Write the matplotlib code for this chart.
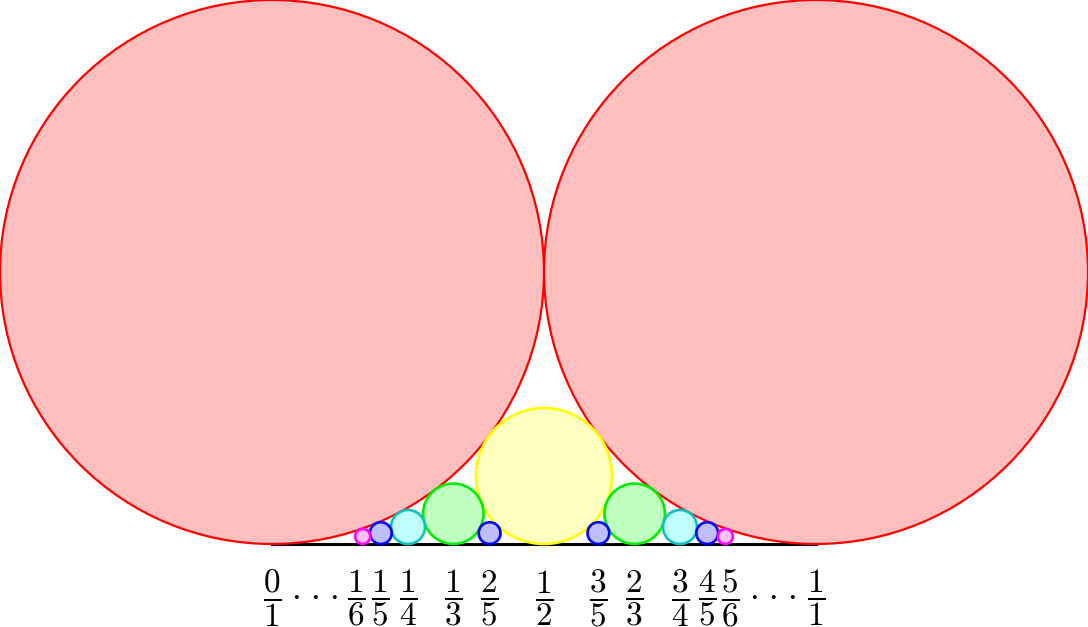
import numpy as np
import matplotlib
matplotlib.use('Agg')
import matplotlib.pyplot as plt
from matplotlib.patches import Circle
from math import gcd

# Ford circles for all reduced fractions p/q with q <= 6
max_q = 6
edge_colors = {1: '#ff0000', 2: '#ffff00', 3: '#00ee00', 4: '#10c0c0', 5: '#0000ff', 6: '#ff00ff'}
fill_colors = {1: '#ffbfbf', 2: '#ffffbf', 3: '#bfffbf', 4: '#bfffff', 5: '#bfbfff', 6: '#ffbfff'}

fractions = [(p, q) for q in range(1, max_q + 1) for p in range(0, q + 1) if gcd(p, q) == 1]
dots_x = [0.078, 0.920]
dot_gap = 0.0355
# small nudge for the crowded q=6 labels
label_shift = {(1, 6): -0.0125, (5, 6): 0.009}

plt.rcParams['mathtext.fontset'] = 'cm'

fig = plt.figure(figsize=(10.88, 6.27), dpi=100)
ax = fig.add_axes([0, 0, 1, 1])
ax.set_xlim(-0.5, 1.5)
ax.set_ylim(-0.1526, 1.0)
ax.set_aspect('equal')
ax.axis('off')

ax.plot([0, 1], [0, 0], color='black', lw=2.2, zorder=1)

for p, q in sorted(fractions, key=lambda f: f[1]):
    r = 1 / (2 * q ** 2)
    c = Circle((p / q, r), r, facecolor=fill_colors[q], edgecolor=edge_colors[q],
               lw=1.6 if q == 1 else 1.9, zorder=2 + q)
    ax.add_patch(c)
    ax.text(p / q + label_shift.get((p, q), 0), -0.099, r'$\dfrac{%d}{%d}$' % (p, q),
            fontsize=24, ha='center', va='center')

# the "..." between 0/1 and 1/6, and between 5/6 and 1/1
for x in dots_x:
    for k in (-1, 0, 1):
        ax.text(x + k * dot_gap, -0.1105, r'$\cdot$', fontsize=25, ha='center', va='baseline')

fig.savefig('out.png', dpi=100)
